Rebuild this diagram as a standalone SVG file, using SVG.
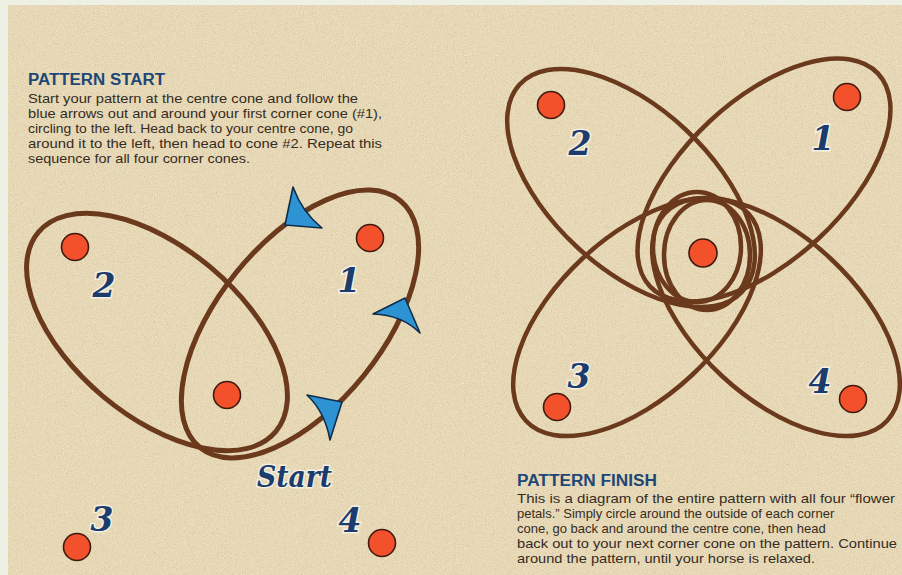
<svg xmlns="http://www.w3.org/2000/svg" width="902" height="575" viewBox="0 0 902 575">
  <defs>
    <filter id="grain" x="0" y="0" width="100%" height="100%">
      <feTurbulence type="fractalNoise" baseFrequency="0.9" numOctaves="2" seed="7" result="n"/>
      <feColorMatrix in="n" type="matrix" result="dark" values="0 0 0 0 0.55  0 0 0 0 0.44  0 0 0 0 0.28  1.6 0 0 0 -0.82"/>
      <feColorMatrix in="n" type="matrix" result="light" values="0 0 0 0 0.98  0 0 0 0 0.96  0 0 0 0 0.90  0 -1.6 0 0 0.68"/>
      <feMerge><feMergeNode in="dark"/><feMergeNode in="light"/></feMerge>
    </filter>
    <style>
      .bg { fill: #e8d9b6; }
      .loop { fill: none; stroke: #6b3a1d; stroke-width: 5; }
      .loopR { fill: none; stroke: #6b3a1d; stroke-width: 4.5; }
      .cone { fill: #f2512b; stroke: #3f1a0f; stroke-width: 1.6; }
      .arrow { fill: #2e93d3; stroke: #0f2d4a; stroke-width: 1.6; stroke-linejoin: round; }
      .num { font-family: "DejaVu Serif", "Liberation Serif", serif; font-weight: bold; font-style: italic; font-size: 33px; fill: #1b3c6c; stroke: #f5f0e2; stroke-width: 3; paint-order: stroke; text-anchor: middle; }
      .start { font-family: "DejaVu Serif", "Liberation Serif", serif; font-weight: bold; font-style: italic; font-size: 30px; fill: #1b3c6c; stroke: #f5f0e2; stroke-width: 3; paint-order: stroke; }
      .head { font-family: "Liberation Sans", Arial, sans-serif; font-weight: bold; font-size: 16px; fill: #1e4775; }
      .body { font-family: "Liberation Sans", Arial, sans-serif; font-size: 13px; fill: #352c22; }
    </style>
  </defs>

  <!-- background -->
  <rect x="0" y="0" width="902" height="575" fill="#eef0e3"/>
  <rect class="bg" x="8" y="5" width="894" height="570"/>
  <rect x="8" y="5" width="894" height="570" filter="url(#grain)"/>

  <!-- PATTERN START text -->
  <g id="text-start">
    <text class="head" x="28" y="85" textLength="137" lengthAdjust="spacingAndGlyphs">PATTERN START</text>
    <text class="body" x="28" y="102.5" textLength="330" lengthAdjust="spacingAndGlyphs">Start your pattern at the centre cone and follow the</text>
    <text class="body" x="28" y="117.5" textLength="354" lengthAdjust="spacingAndGlyphs">blue arrows out and around your first corner cone (#1),</text>
    <text class="body" x="28" y="132.5" textLength="325" lengthAdjust="spacingAndGlyphs">circling to the left. Head back to your centre cone, go</text>
    <text class="body" x="28" y="147.5" textLength="354" lengthAdjust="spacingAndGlyphs">around it to the left, then head to cone #2. Repeat this</text>
    <text class="body" x="28" y="162.5" textLength="222" lengthAdjust="spacingAndGlyphs">sequence for all four corner cones.</text>
  </g>

  <!-- PATTERN FINISH text -->
  <g id="text-finish">
    <text class="head" x="517" y="486" textLength="140" lengthAdjust="spacingAndGlyphs">PATTERN FINISH</text>
    <text class="body" x="517" y="503" textLength="378" lengthAdjust="spacingAndGlyphs">This is a diagram of the entire pattern with all four “flower</text>
    <text class="body" x="517" y="518">petals.” Simply circle around the outside of each corner</text>
    <text class="body" x="517" y="533">cone, go back and around the centre cone, then head</text>
    <text class="body" x="517" y="548" textLength="380" lengthAdjust="spacingAndGlyphs">back out to your next corner cone on the pattern. Continue</text>
    <text class="body" x="517" y="563" textLength="298" lengthAdjust="spacingAndGlyphs">around the pattern, until your horse is relaxed.</text>
  </g>

  <!-- connectors / paths -->
  <g id="connectors">
    <!-- left diagram -->
    <ellipse class="loop" cx="157" cy="332" rx="155" ry="84" transform="rotate(40 157 332)"/>
    <ellipse class="loop" cx="300" cy="324" rx="159" ry="82" transform="rotate(-51 300 324)"/>
    <!-- right diagram -->
    <ellipse class="loopR" cx="631" cy="188" rx="152" ry="80" transform="rotate(43 631 188)"/>
    <ellipse class="loopR" cx="764" cy="180" rx="156" ry="80" transform="rotate(-43 764 180)"/>
    <ellipse class="loopR" cx="637" cy="317" rx="152" ry="80" transform="rotate(-43 637 317)"/>
    <ellipse class="loopR" cx="776" cy="317" rx="152" ry="80" transform="rotate(43 776 317)"/>
    <ellipse class="loopR" cx="697" cy="247" rx="44" ry="55"/>
    <ellipse class="loopR" cx="707" cy="255" rx="43" ry="55"/>
  </g>

  <!-- blue direction arrows -->
  <g id="arrows">
    <path class="arrow" d="M293,187 L285,225 L322,228 Q302,212 293,187 Z"/>
    <path class="arrow" d="M373,314 L405,298 L420,333 Q402,315 373,314 Z"/>
    <path class="arrow" d="M307,395 L342,402 L330,440 Q325,412 307,395 Z"/>
  </g>

  <!-- left diagram nodes -->
  <g id="L-cone-2"><circle class="cone" cx="75" cy="247" r="13.5"/><text class="num" x="104" y="297">2</text></g>
  <g id="L-cone-1"><circle class="cone" cx="370" cy="238" r="13.5"/><text class="num" x="349" y="292">1</text></g>
  <g id="L-cone-centre"><circle class="cone" cx="227" cy="395" r="13.5"/></g>
  <g id="L-cone-3"><circle class="cone" cx="77" cy="547" r="13.5"/><text class="num" x="102" y="531">3</text></g>
  <g id="L-cone-4"><circle class="cone" cx="382" cy="543" r="13.5"/><text class="num" x="350" y="532">4</text></g>
  <g id="L-start"><text class="start" x="257" y="487" textLength="75" lengthAdjust="spacingAndGlyphs">Start</text></g>

  <!-- right diagram nodes -->
  <g id="R-cone-2"><circle class="cone" cx="551" cy="105" r="13.5"/><text class="num" x="580" y="155">2</text></g>
  <g id="R-cone-1"><circle class="cone" cx="847" cy="97" r="13.5"/><text class="num" x="823" y="150">1</text></g>
  <g id="R-cone-centre"><circle class="cone" cx="703" cy="253" r="14"/></g>
  <g id="R-cone-3"><circle class="cone" cx="557" cy="407" r="13.5"/><text class="num" x="579" y="388">3</text></g>
  <g id="R-cone-4"><circle class="cone" cx="853" cy="399" r="13.5"/><text class="num" x="820" y="393">4</text></g>
</svg>
